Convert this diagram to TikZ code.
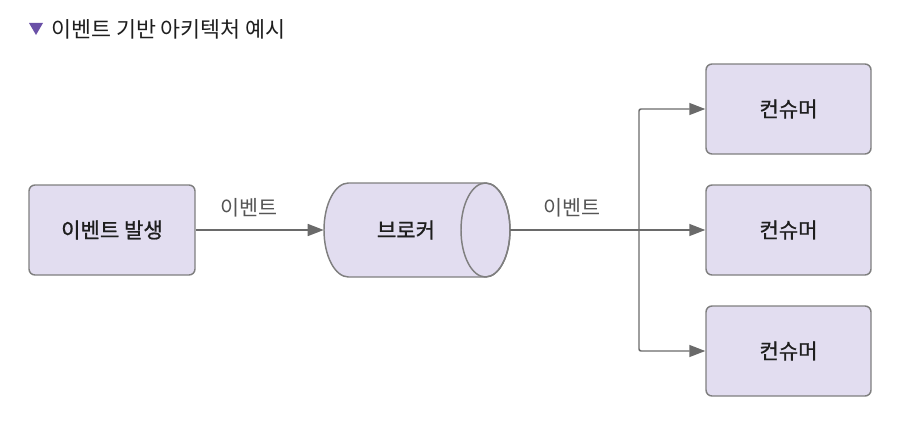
\documentclass[tikz,border=0pt]{standalone}
\usepackage{fontspec}
\newfontfamily\kr{Noto Sans CJK KR}
\newfontfamily\krm[FakeBold=0.9]{Noto Sans CJK KR}
\usetikzlibrary{arrows.meta}
\definecolor{boxfill}{HTML}{E2DDF0}
\definecolor{boxline}{HTML}{7F7F7F}
\definecolor{arrowc}{HTML}{6A6A6A}
\definecolor{tri}{HTML}{6A50A7}
\definecolor{txt}{HTML}{1E1E1E}
\definecolor{lbltxt}{HTML}{555555}
\begin{document}
\begin{tikzpicture}[x=0.75pt,y=0.75pt,
  box/.style={draw=boxline, fill=boxfill, line width=1.1pt, rounded corners=4.5pt,
    minimum height=67.5pt, inner sep=0pt, text=txt, font=\krm\fontsize{15.8}{18}\selectfont},
  nodetext/.style={inner sep=0pt, text=txt, font=\krm\fontsize{15.8}{18}\selectfont},
  conn/.style={draw=arrowc, line width=1.1pt, -{Triangle[length=12pt,width=9pt]}},
  lbl/.style={inner sep=0pt, text=lbltxt, font=\kr\fontsize{15.5}{18}\selectfont},
  cyl/.style={draw=boxline, fill=boxfill, line width=1.1pt}]
\useasboundingbox (0,0) rectangle (922,444);
% title
\fill[tri] (29,421) -- (43,421) -- (36,409) -- cycle;
\node[anchor=west, inner sep=0pt, text=txt, font=\kr\fontsize{16.3}{19}\selectfont] (title) at (51,415) {이벤트 기반 아키텍처 예시};
% source
\node[box, minimum width=124.5pt] (src) at (112,214) {이벤트 발생};
% broker cylinder
\node[minimum width=139.5pt, minimum height=70.5pt, inner sep=0pt] (broker) at (417,214) {};
\path[cyl] (348.5,261) -- (485.5,261) arc[start angle=90,end angle=-90,x radius=24.5,y radius=47]
  -- (348.5,167) arc[start angle=270,end angle=90,x radius=24.5,y radius=47] -- cycle;
\draw[cyl, fill=none] (485.5,214) ellipse [x radius=24.5, y radius=47];
\node[nodetext] (brokertext) at (406,214) {브로커};
% consumers
\node[box, minimum width=123.75pt] (c1) at (788.5,335) {컨슈머};
\node[box, minimum width=123.75pt] (c2) at (788.5,214) {컨슈머};
\node[box, minimum width=123.75pt] (c3) at (788.5,93) {컨슈머};
% connectors
\draw[conn] (src.east) -- (broker.west);
\node[lbl] (l1) at (249,236) {이벤트};
\draw[conn] (broker.east) -- (c2.west);
\node[lbl] (l2) at (572,236) {이벤트};
\coordinate (br) at (639,214);
\draw[conn, rounded corners=1.5pt] (br) |- (c1.west);
\draw[conn, rounded corners=1.5pt] (br) |- (c3.west);
\end{tikzpicture}
\end{document}
